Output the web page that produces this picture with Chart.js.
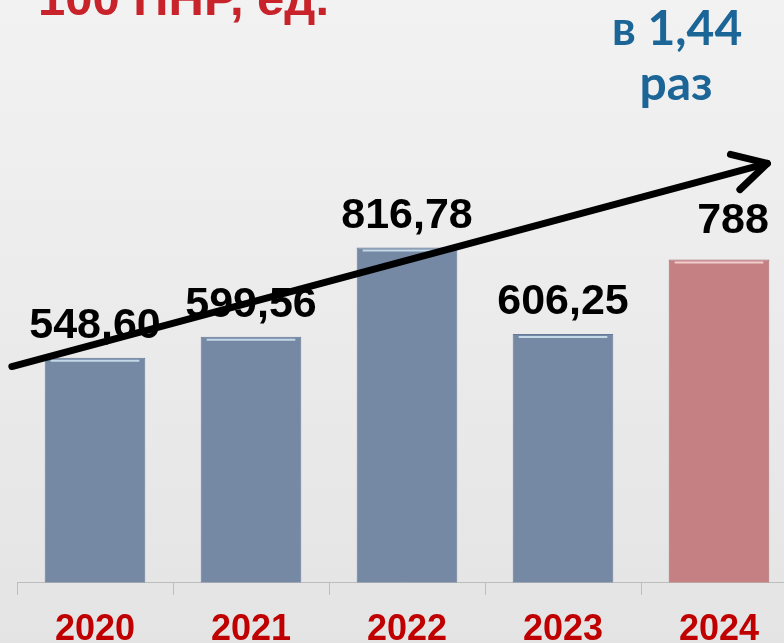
<!DOCTYPE html>
<html lang="ru">
<head>
    <meta charset="UTF-8">
    <script src="https://cdn.jsdelivr.net/npm/chart.js"></script>
    <title>100 ПНР, ед.</title>
    <style>
        html, body { margin: 0; padding: 0; overflow: hidden; background: #ebebeb; }
    </style>
</head>
<body>
    <canvas id="pnrChart" width="797" height="666"></canvas>
    <script>
        // данные
        const years = ['2020', '2021', '2022', '2023', '2024'];
        const values = [548.60, 599.56, 816.78, 606.25, 788];
        const valueLabels = ['548,60', '599,56', '816,78', '606,25', '788'];
        const barColors = ['#7589a5', '#7589a5', '#7589a5', '#7589a5', '#c48083'];
        const barEdges = ['#65799a', '#65799a', '#65799a', '#65799a', '#a86b6e'];
        const titleText = '100 ПНР, ед.';
        const growthText = ['в 1,44', 'раз'];

        const decor = {
            id: 'decor',
            beforeDraw(chart) {
                const c = chart.ctx;
                const g = c.createLinearGradient(0, 0, 0, 643);
                g.addColorStop(0, '#f2f2f2');
                g.addColorStop(1, '#e4e4e4');
                c.save();
                c.fillStyle = g;
                c.fillRect(0, 0, chart.width, chart.height);
                c.restore();
            },
            afterDatasetsDraw(chart) {
                const c = chart.ctx;
                const meta = chart.getDatasetMeta(0);
                const x = chart.scales.x, y = chart.scales.y;
                c.save();
                // блик сверху столбиков
                meta.data.forEach((bar, i) => {
                    const half = bar.width / 2;
                    c.strokeStyle = i === 4 ? 'rgba(255,225,225,0.8)' : 'rgba(205,225,240,0.9)';
                    c.lineWidth = 2;
                    c.beginPath();
                    c.moveTo(bar.x - half + 6, bar.y + 3);
                    c.lineTo(bar.x + half - 6, bar.y + 3);
                    c.stroke();
                });

                // подписи значений
                c.fillStyle = '#000';
                c.font = 'bold 43px "Liberation Sans", Arial, sans-serif';
                c.textAlign = 'center';
                c.textBaseline = 'alphabetic';
                meta.data.forEach((bar, i) => {
                    const dx = i === 4 ? 14 : 0;
                    const dy = i === 4 ? 26 : 20;
                    c.fillText(valueLabels[i], bar.x + dx, bar.y - dy);
                });

                // стрелка тренда
                const x0 = x.getPixelForValue(-0.533), y0 = y.getPixelForValue(527);
                const x1 = x.getPixelForValue(4.31), y1 = y.getPixelForValue(1022);
                const ang = Math.atan2(y1 - y0, x1 - x0);
                c.strokeStyle = '#000';
                c.lineWidth = 7;
                c.lineCap = 'round';
                c.lineJoin = 'round';
                c.beginPath();
                c.moveTo(x0, y0);
                c.lineTo(x1, y1);
                c.stroke();
                const len = 38;
                c.beginPath();
                c.moveTo(x1 + len * Math.cos(ang + Math.PI - 0.5), y1 + len * Math.sin(ang + Math.PI - 0.5));
                c.lineTo(x1, y1);
                c.lineTo(x1 + len * Math.cos(ang + Math.PI + 0.5), y1 + len * Math.sin(ang + Math.PI + 0.5));
                c.stroke();

                // заголовки
                c.fillStyle = '#c8222a';
                c.font = 'bold 49px "Liberation Sans", Arial, sans-serif';
                c.textAlign = 'left';
                c.fillText(titleText, 38, 15);

                c.fillStyle = '#1b6597';
                c.font = 'bold 48px Lato, "Noto Sans", sans-serif';
                c.textAlign = 'center';
                c.fillText(growthText[0], 677, 45);
                c.fillText(growthText[1], 676, 100);
                c.restore();
            }
        };

        new Chart(document.getElementById('pnrChart'), {
            type: 'bar',
            data: {
                labels: years,
                datasets: [{
                    data: values,
                    backgroundColor: barColors,
                    borderColor: barEdges,
                    borderWidth: 1,
                    categoryPercentage: 1,
                    barPercentage: 0.645
                }]
            },
            options: {
                responsive: false,
                animation: false,
                layout: { padding: { left: 17, right: 0, top: 0, bottom: 0 } },
                plugins: { legend: { display: false }, tooltip: { enabled: false } },
                scales: {
                    x: {
                        grid: { offset: true, drawOnChartArea: false, color: '#bdbdbd', tickLength: 12 },
                        border: { color: '#bdbdbd', width: 1 },
                        ticks: {
                            color: '#c00000',
                            padding: 14,
                            font: { family: '"Liberation Sans", Arial, sans-serif', size: 36, weight: 'bold' }
                        }
                    },
                    y: { display: false, min: 0, max: 1420 }
                }
            },
            plugins: [decor]
        });
    </script>
</body>
</html>
